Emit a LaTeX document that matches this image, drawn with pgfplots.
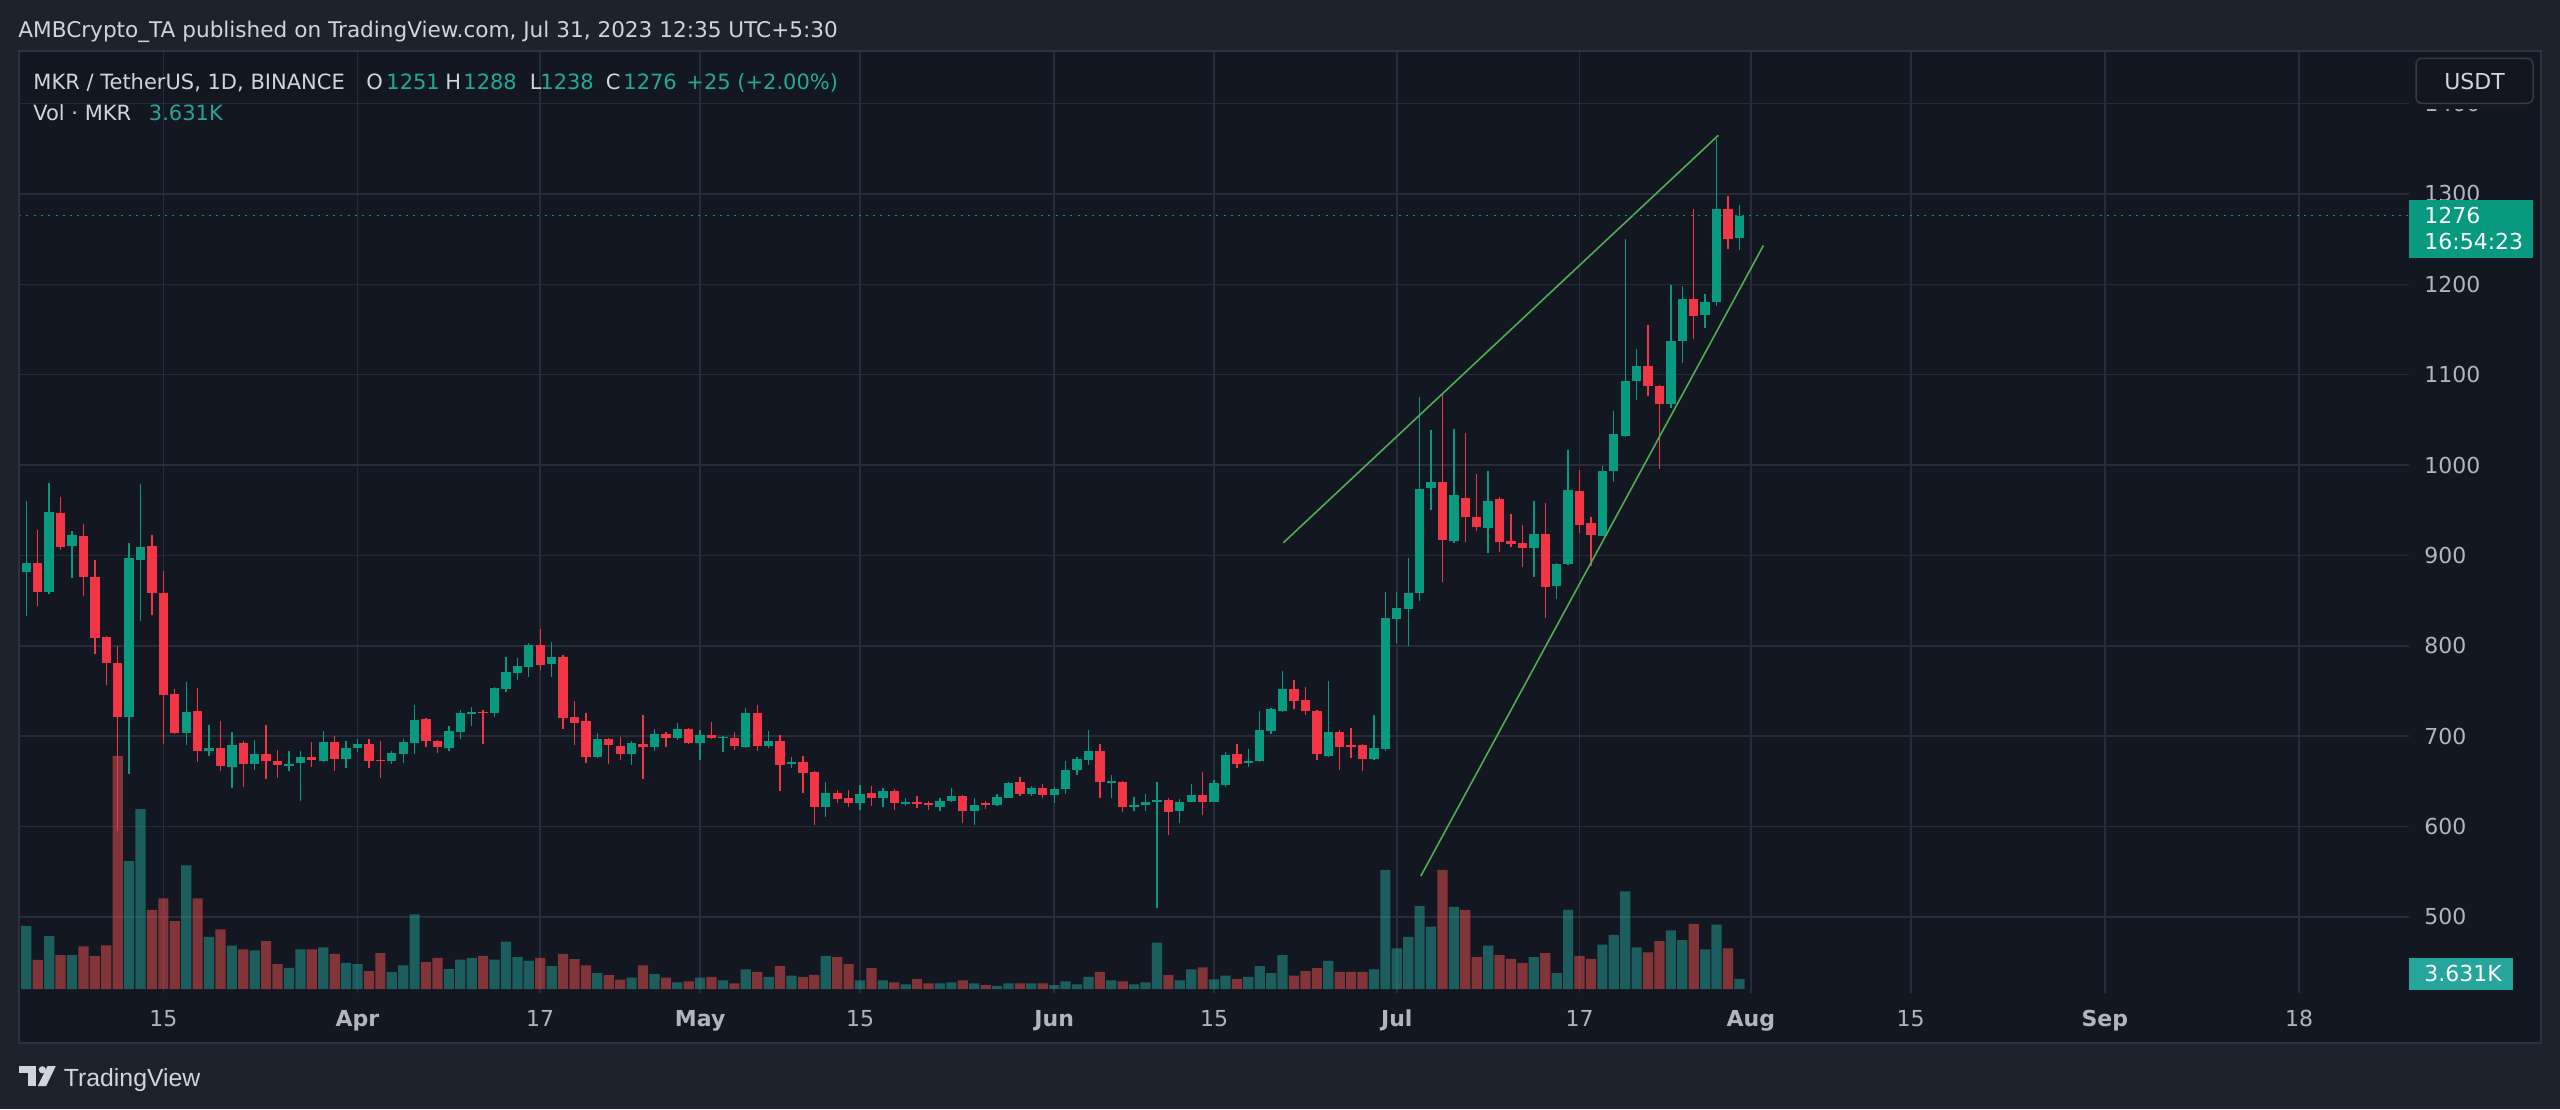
\documentclass[border=0pt]{standalone}
\usepackage{fontspec}
\setmainfont{DejaVu Sans}
\newfontfamily\libsans{Liberation Sans}
\usepackage{pgfplots}
\usepackage{pgfplotstable}
\pgfplotsset{compat=1.18}

\definecolor{bgout}{RGB}{30,34,45}
\definecolor{bgpane}{RGB}{19,23,34}
\definecolor{gridc}{RGB}{40,44,56}
\definecolor{borderc}{RGB}{46,50,62}
\definecolor{txt}{RGB}{209,212,220}
\definecolor{axtxt}{RGB}{178,181,190}
\definecolor{upc}{HTML}{089981}
\definecolor{dnc}{HTML}{F23645}
\definecolor{upv}{HTML}{26A69A}
\definecolor{dnv}{HTML}{EF5350}
\definecolor{valc}{HTML}{22AB94}
\definecolor{trend}{RGB}{76,175,80}

\newcommand\lbl{\fontsize{11}{13}\selectfont}
\newcommand\hdr{\fontsize{10.5}{12}\selectfont}
\newcommand\hdrtop{\fontsize{10.8}{12}\selectfont}

% day 0 = 3 Mar 2023; columns: day open high low close volume(K)
\pgfplotstableread{
d o h l c v
0 882 960 833 892 22.2
2 860 980 857 948 18.6
4 910 927 875 922 11.9
9 721 914 658 897 44.9
10 895 979 827 909 63.1
14 703 760 690 727 43.4
16 683 712 678 687 18.3
18 666 705 643 690 15.2
20 669 696 663 680 13.6
23 668 684 661 669 7.4
24 670 683 628 677 13.9
26 672 706 671 693 14.6
28 675 695 665 687 9.2
29 687 697 682 691 8.7
32 672 684 669 681 6.0
33 680 697 670 693 8.3
34 692 734 680 718 26.2
37 687 711 684 706 7.0
38 704 729 697 725 10.3
39 725 732 711 726 10.9
41 725 754 721 753 10.3
42 752 788 749 771 16.6
43 770 786 762 778 11.2
44 777 803 765 801 9.9
46 780 804 765 788 8.0
50 677 703 676 697 5.6
53 680 695 668 692 4.0
55 688 708 683 702 5.3
57 698 714 696 708 2.3
59 692 707 674 701 4.0
61 698 700 682 699 3.0
63 688 731 687 725 6.9
65 689 706 687 694 4.3
67 670 677 665 671 4.7
70 621 649 610 637 11.6
73 626 646 618 636 3.0
75 632 643 622 639 3.0
77 625 632 623 627 1.6
80 622 631 617 628 2.0
81 628 643 627 634 2.3
83 617 631 602 624 2.0
85 624 636 623 633 1.1
86 632 649 631 648 2.0
88 636 645 634 643 2.0
90 635 644 626 641 1.4
91 641 672 636 662 2.7
92 662 677 657 675 1.6
93 674 707 668 683 4.3
95 648 657 632 650 3.0
97 622 633 617 624 1.6
98 624 636 617 627 2.3
99 627 649 510 629 16.3
101 617 630 604 627 3.0
102 627 647 627 635 6.9
104 627 651 627 648 3.4
105 646 682 644 679 4.7
107 671 686 666 672 4.3
108 672 728 671 707 8.0
109 706 731 702 730 5.6
110 728 772 727 752 11.9
114 678 761 677 705 9.9
118 675 723 674 687 6.9
119 686 860 684 831 41.8
120 830 860 803 842 14.3
121 841 897 800 858 18.3
122 858 1075 849 974 29.1
123 975 1039 950 981 21.9
125 916 1040 914 967 28.8
128 930 993 903 960 15.2
132 908 960 876 924 11.2
134 866 892 852 891 5.6
135 890 1017 889 972 27.8
138 922 999 922 993 15.6
139 993 1060 981 1034 19.0
140 1032 1250 1031 1093 34.3
141 1093 1128 1072 1110 14.6
144 1068 1199 1063 1137 20.6
145 1137 1198 1113 1184 17.2
147 1166 1189 1152 1180 13.9
148 1180 1361 1176 1283 22.6
150 1251 1288 1238 1276 3.6
}\up

\pgfplotstableread{
d o h l c v
1 892 928 844 860 10.2
3 947 965 906 909 11.9
5 922 935 855 876 15.0
6 876 895 791 809 11.6
7 810 811 757 781 15.3
8 781 800 595 721 81.8
11 910 923 834 858 27.8
12 858 883 691 746 31.8
13 747 752 702 703 23.8
15 728 753 671 683 31.8
17 687 717 661 667 20.9
19 692 694 644 669 13.9
21 680 712 653 672 16.8
22 672 685 654 668 8.7
25 677 693 666 673 13.9
27 693 700 661 675 12.3
30 691 697 665 672 6.3
31 674 694 654 672 12.6
35 719 720 688 695 9.4
36 695 696 681 688 10.9
40 727 729 691 726 11.6
45 801 819 773 779 10.9
47 788 790 708 720 12.3
48 721 739 690 715 10.5
49 717 725 670 677 8.3
51 697 698 669 690 4.9
52 689 699 674 680 3.3
54 691 723 653 688 8.3
56 702 704 688 698 4.0
58 708 709 691 692 2.7
60 701 716 697 698 4.3
62 698 704 685 689 2.0
64 725 734 683 689 6.0
66 694 701 639 668 8.0
68 671 678 637 659 4.3
69 660 661 602 622 5.0
71 637 640 626 630 11.2
72 631 640 622 626 8.7
74 637 645 623 632 7.3
76 639 641 618 626 2.3
78 627 634 620 625 3.6
79 626 628 618 624 2.0
82 634 635 604 617 3.0
84 626 628 619 624 1.4
87 649 655 634 636 2.0
89 643 647 631 635 2.0
94 683 691 631 649 6.0
96 649 650 616 622 2.7
100 629 631 591 616 4.9
103 635 660 613 627 7.6
106 680 691 665 669 3.6
111 752 762 730 739 4.7
112 740 754 723 728 6.3
113 728 729 674 680 7.3
115 705 707 662 688 6.0
116 690 709 676 688 6.0
117 690 691 661 675 6.0
124 981 1080 870 917 41.8
126 964 1035 915 943 27.8
127 943 990 927 931 11.2
129 962 965 904 915 11.9
130 916 946 909 913 10.6
131 914 934 887 908 9.2
133 924 958 831 865 12.6
136 971 995 925 934 11.6
137 936 942 888 923 10.6
142 1110 1155 1076 1088 12.9
143 1088 1089 996 1068 16.8
146 1184 1283 1139 1165 22.9
149 1283 1298 1239 1250 14.3
}\dn

\pgfplotsset{
  paneaxis/.style={
    at={(9.5pt,-25.35pt)}, anchor=north west,
    scale only axis, width=1195pt, height=471.15pt,
    xmin=-0.64, xmax=208.63,
  },
  wick/.style={draw=none, mark=none,
    error bars/.cd, y dir=both, y explicit, error mark=none,
    error bar style={draw=#1, line width=0.67pt}},
  body/.style={draw=none, mark=none,
    error bars/.cd, y dir=both, y explicit, error mark=none,
    error bar style={draw=#1, line width=4.67pt}},
}

\begin{document}
\begin{tikzpicture}
\begin{scope}[x=0.5pt,y=-0.5pt]
\fill[bgout] (0,0) rectangle (2560,1109);
\fill[bgpane] (19,50.7) rectangle (2541,1042.5);
\end{scope}

% grid and scales
\begin{axis}[paneaxis,
  ymin=415.6, ymax=1458.6,
  axis line style={draw=none}, major tick length=0pt,
  xtick={12,29,45,59,73,90,104,120,136,151,165,182,199},
  xticklabels={15,\textbf{Apr},17,\textbf{May},15,\textbf{Jun},15,\textbf{Jul},17,\textbf{Aug},15,\textbf{Sep},18},
  ytick={500,600,700,800,900,1000,1100,1200,1300,1400},
  yticklabels={500,600,700,800,900,1000,1100,1200,1300,1400},
  yticklabel pos=right,
  grid=major, major grid style={draw=gridc, line width=0.8pt},
  xticklabel style={font=\lbl, text=axtxt, anchor=base, inner sep=0pt, yshift=-16.5pt},
  yticklabel style={font=\lbl, text=axtxt, anchor=base west, inner sep=0pt, xshift=7.5pt, yshift=-4pt},
]
\addplot[draw=none] coordinates {(0,1000)};
\end{axis}

% volume
\begin{axis}[paneaxis, ymin=-1.404, ymax=329.34, hide axis, clip mode=individual]
\addplot[ybar, bar width=5.1pt, bar shift=0pt, draw=none, fill=upv, fill opacity=0.5] table[x=d,y=v] {\up};
\addplot[ybar, bar width=5.1pt, bar shift=0pt, draw=none, fill=dnv, fill opacity=0.5] table[x=d,y=v] {\dn};
\fill[upv] ([yshift=10.5pt]axis cs:208.63,3.631) rectangle ([xshift=52pt,yshift=-5.7pt]axis cs:208.63,3.631);
\node[anchor=base west, inner sep=0pt, text=white, font=\lbl] at ([xshift=7.5pt,yshift=-1.6pt]axis cs:208.63,3.631) {3.631K};
\end{axis}

% candles
\begin{axis}[paneaxis, ymin=415.6, ymax=1458.6, hide axis, clip mode=individual]
\addplot[wick=upc] table[x=d, y expr={(\thisrow{h}+\thisrow{l})/2}, y error expr={(\thisrow{h}-\thisrow{l})/2}] {\up};
\addplot[wick=dnc] table[x=d, y expr={(\thisrow{h}+\thisrow{l})/2}, y error expr={(\thisrow{h}-\thisrow{l})/2}] {\dn};
\addplot[body=upc] table[x=d, y expr={(\thisrow{o}+\thisrow{c})/2}, y error expr={max(abs(\thisrow{c}-\thisrow{o})/2,0.7)}] {\up};
\addplot[body=dnc] table[x=d, y expr={(\thisrow{o}+\thisrow{c})/2}, y error expr={max(abs(\thisrow{c}-\thisrow{o})/2,0.7)}] {\dn};
% trend lines
\addplot[trend, line width=0.8pt] coordinates {(110.07,914) (148.16,1365)};
\addplot[trend, line width=0.8pt] coordinates {(122.1,545) (152.1,1243)};
% last price line
\addplot[upc, line width=0.65pt, dash pattern=on 1pt off 2.65pt] coordinates {(-0.64,1276) (208.63,1276)};
\fill[upc] ([yshift=7.85pt]axis cs:208.63,1276) rectangle ([xshift=62pt,yshift=-21.3pt]axis cs:208.63,1276);
\node[anchor=base west, inner sep=0pt, text=white, font=\lbl] at ([xshift=7.5pt,yshift=-4.15pt]axis cs:208.63,1276) {1276};
\node[anchor=base west, inner sep=0pt, text=white, font=\lbl] at ([xshift=7.5pt,yshift=-17.15pt]axis cs:208.63,1276) {16:54:23};
\end{axis}

\begin{scope}[x=0.5pt,y=-0.5pt]
% hide most of the 1400 label behind the currency box
\fill[bgpane] (2410,52) rectangle (2539,109);
\draw[borderc, line width=1pt] (19,50.7) rectangle (2541,1042.5);
\draw[draw={rgb,255:red,54;green,58;blue,69}, fill={rgb,255:red,19;green,22;blue,31}, line width=0.75pt, rounded corners=3pt] (2416,58.3) rectangle (2533,103.3);
\node[anchor=base, inner sep=0pt, text=txt, font=\lbl] at (2474.5,89) {USDT};
% header
\node[anchor=base west, inner sep=0pt, text=txt, font=\hdrtop] at (18,37.3) {AMBCrypto\_TA published on TradingView.com, Jul 31, 2023 12:35 UTC+5:30};
% legend
\begin{scope}[every node/.style={anchor=base west, inner sep=0pt, font=\hdr}]
\node[text=txt] at (33,89.3) {MKR / TetherUS, 1D, BINANCE};
\node[text=txt] at (366,89.3) {O};
\node[text=valc] at (386,89.3) {1251};
\node[text=txt] at (445,89.3) {H};
\node[text=valc] at (463,89.3) {1288};
\node[text=txt] at (529.5,89.3) {L};
\node[text=valc] at (540,89.3) {1238};
\node[text=txt] at (605.5,89.3) {C};
\node[text=valc] at (623,89.3) {1276};
\node[text=valc] at (686,89.3) {+25 (+2.00\%)};
\node[text=txt] at (33,120.7) {Vol · MKR};
\node[text=upv] at (148.5,120.7) {3.631K};
\end{scope}
% TradingView logo
\fill[txt] (19,1066) rectangle (36,1073);
\fill[txt] (28,1066) rectangle (36,1086);
\fill[txt] (42.3,1069.8) circle (3.6);
\fill[txt] (47.5,1066) -- (55.8,1066) -- (46.2,1086) -- (37.8,1086) -- cycle;
\node[anchor=base west, inner sep=0pt, text=txt, font=\libsans\fontsize{12.4}{14}\selectfont] at (63.5,1086) {TradingView};
\pgfresetboundingbox
\path[use as bounding box] (0,0) rectangle (2560,1109);
\end{scope}
\end{tikzpicture}
\end{document}
